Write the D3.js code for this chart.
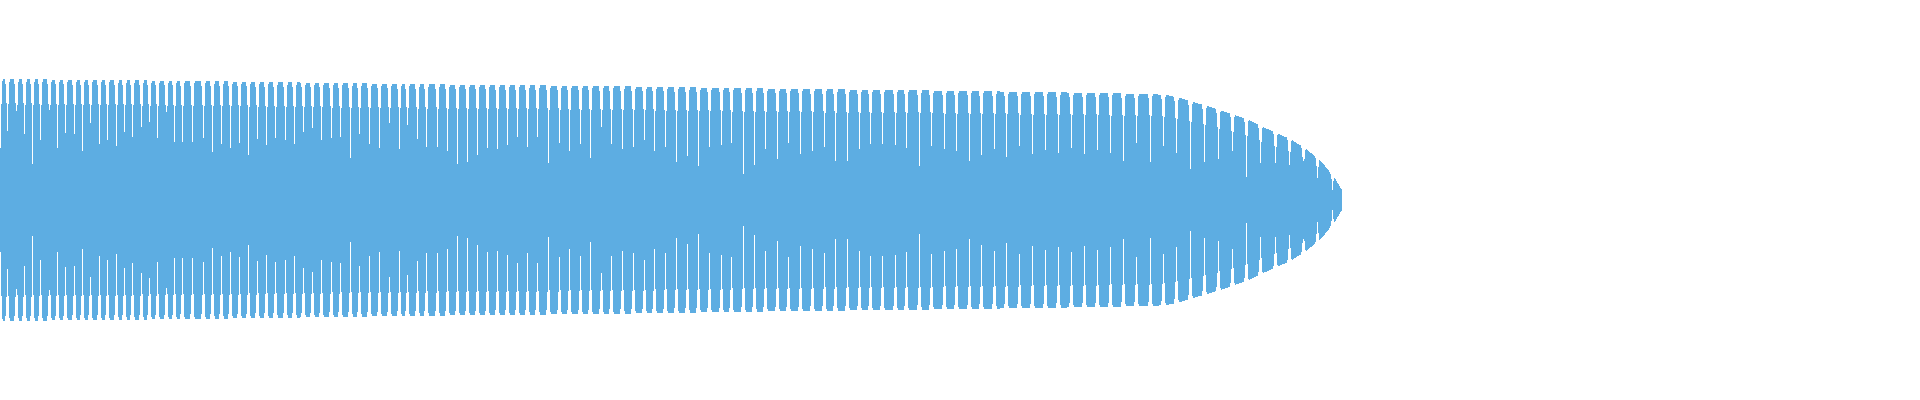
<!DOCTYPE html>
<html>
<head>
<meta charset="utf-8">
<script src="https://cdn.jsdelivr.net/npm/d3@7"></script>
<style>
  html, body { margin: 0; padding: 0; background: #fff; }
  #container { width: 1920px; height: 400px; }
</style>
</head>
<body>
<div id="container"></div>
<script>
// envelope of the clip (frame -> peak amplitude, full scale = 1)
const envFrame = [0, 200, 400, 600, 800, 900, 1100, 1150, 1167, 1180, 1193, 1207, 1220, 1235, 1249, 1263, 1277, 1292, 1306, 1320, 1334, 1342];
const envAmp = [0.968, 0.952, 0.928, 0.912, 0.888, 0.88, 0.856, 0.848, 0.84, 0.816, 0.784, 0.752, 0.72, 0.68, 0.64, 0.584, 0.536, 0.48, 0.408, 0.32, 0.184, 0.08];

// troughs between the peaks: where they sit and how far they drop (share of the envelope)
const gapFrame = [0, 7.3, 16, 24.3, 32.3, 40.7, 49, 57.3, 65.7, 74, 82.3, 90.7, 99, 107.3, 116, 124.3, 132.7, 141, 149.3, 157.7, 166, 174.3, 182.7,
  192.5, 203.3, 212.3, 221.3, 230.3, 239.3, 248.7, 257.7, 266.7, 275.7, 285, 294, 303.3, 312.7, 321.7, 331, 340, 350, 359.3, 369, 379, 389, 399,
  407.7, 417.7, 426.7, 437.3, 447.3, 457.3, 467.3, 477.3, 487.3, 497.7, 507.3, 517.3, 527.3, 537.7, 548.3, 559.3, 569.3, 580, 590,
  601, 611.7, 622.3, 633.3, 644.3, 654.3, 665.7, 676.7, 687.7, 698.3, 709.3, 721, 731.7, 743.3, 754.3, 765.7, 777.3, 788.3, 800,
  812, 824, 835.7, 847.7, 859.3, 870.7, 882.7, 895,
  906.7, 919.3, 931.7, 944, 956, 969, 981.7, 994.3, 1006.7, 1019.3, 1032.3, 1045, 1058.3, 1071.7, 1084.3, 1097.3,
  1110, 1123.3, 1136.7, 1150, 1163.3, 1176.7, 1190.7, 1204, 1218.3, 1232.7, 1246.7, 1260.7, 1275, 1289.3, 1303.3, 1317.7, 1332.3];
const gapDepth = [0.43, 0.57, 0.74, 0.55, 0.30, 0.50, 0.75, 0.43, 0.56, 0.55, 0.41, 0.64, 0.47, 0.50, 0.45, 0.57, 0.53, 0.61, 0.65, 0.52, 0.74, 0.49, 0.49,
  0.49, 0.52, 0.40, 0.47, 0.44, 0.48, 0.38, 0.52, 0.47, 0.53, 0.51, 0.48, 0.58, 0.61, 0.51, 0.53, 0.54, 0.36, 0.57, 0.48, 0.45, 0.66, 0.44,
  0.65, 0.53, 0.46, 0.46, 0.42, 0.31, 0.33, 0.39, 0.45, 0.44, 0.48, 0.55, 0.46, 0.55, 0.32, 0.50, 0.43, 0.49, 0.37,
  0.64, 0.49, 0.45, 0.47, 0.53, 0.43, 0.47, 0.34, 0.39, 0.30, 0.47, 0.49, 0.51, 0.23, 0.31, 0.46, 0.37, 0.51, 0.41,
  0.44, 0.48, 0.35, 0.35, 0.46, 0.51, 0.51, 0.50,
  0.47, 0.31, 0.49, 0.47, 0.45, 0.36, 0.41, 0.47, 0.40, 0.50, 0.43, 0.46, 0.44, 0.48, 0.43, 0.47,
  0.44, 0.37, 0.54, 0.36, 0.51, 0.46, 0.31, 0.40, 0.45, 0.57, 0.29, 0.50, 0.54, 0.57, 0.74, 0.53, 0.42];

const totalFrames = 1920;
const lastFrame = 1342;

const width = 1920;
const height = 400;
const color = "#5DADE2";

const x = d3.scaleLinear().domain([0, totalFrames]).range([0, width]);
const y = d3.scaleLinear().domain([-1, 1]).range([height / 2 + 125, height / 2 - 125]);
const env = d3.scaleLinear().domain(envFrame).range(envAmp).clamp(true);

// share of the envelope each frame column reaches around a trough
const level = new Map();
gapFrame.forEach((g, i) => level.set(Math.floor(g), gapDepth[i]));
gapFrame.forEach(g => {
  const c = Math.floor(g);
  [[c + 1, 0.79], [c - 1, 0.8], [c - 2, 0.96], [c + 2, 0.98]].forEach(([k, v]) => {
    if (!level.has(k) || level.get(k) > v) level.set(k, v);
  });
});

const columns = d3.range(0, lastFrame).map(c => ({
  frame: c,
  amp: env(c + 0.5) * (level.has(c) ? level.get(c) : 1)
}));
columns.push({frame: lastFrame, amp: columns[columns.length - 1].amp});

const svg = d3.select("#container").append("svg")
  .attr("width", width)
  .attr("height", height)
  .style("display", "block");

svg.append("path")
  .datum(columns)
  .attr("fill", color)
  .attr("shape-rendering", "crispEdges")
  .attr("d", d3.area()
    .curve(d3.curveStepAfter)
    .x(d => x(d.frame))
    .y0(d => y(-d.amp))
    .y1(d => y(d.amp)));
</script>
</body>
</html>
